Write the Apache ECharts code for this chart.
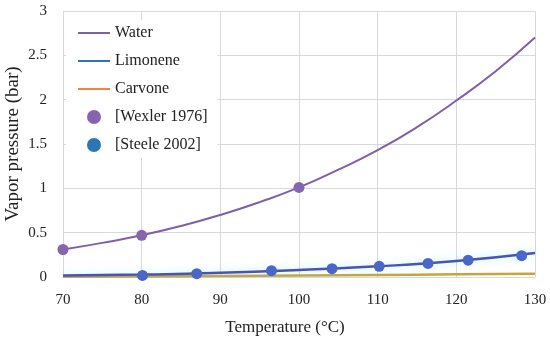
<!DOCTYPE html>
<html><head><meta charset="utf-8">
<script src="https://cdn.jsdelivr.net/npm/echarts@6/dist/echarts.min.js"></script>
<style>html,body{margin:0;padding:0;background:#fff}#c{width:550px;height:343px}</style>
</head><body><div id="c"></div>
<script>
var xTicks = [70, 80, 90, 100, 110, 120, 130];
var yTicks = [0, 0.5, 1, 1.5, 2, 2.5, 3];
var waterT = [70, 75, 80, 85, 90, 95, 100, 105, 110, 115, 120, 125, 130];
var waterP = [0.31, 0.385, 0.47, 0.575, 0.70, 0.845, 1.01, 1.21, 1.43, 1.69, 1.99, 2.32, 2.70];
var limT = [70, 80, 90, 100, 110, 120, 130];
var limP = [0.016, 0.027, 0.047, 0.079, 0.12, 0.18, 0.27];
var carT = [70, 80, 90, 100, 110, 120, 130];
var carP = [0.003, 0.006, 0.010, 0.016, 0.023, 0.030, 0.036];
var wexT = [70, 80, 100];
var wexP = [0.31, 0.47, 1.01];
var steT = [80.1, 87, 96.5, 104.2, 110.2, 116.4, 121.5, 128.3];
var steP = [0.018, 0.037, 0.071, 0.094, 0.12, 0.153, 0.19, 0.24];

function pairs(a, b) { return a.map(function (v, i) { return [v, b[i]]; }); }
var FONT = 'Liberation Serif';
var chart = echarts.init(document.getElementById('c'), null, {renderer: 'canvas'});
chart.setOption({
  animation: false,
  textStyle: {fontFamily: FONT},
  grid: {left: 63, right: 15, top: 11, bottom: 66, containLabel: false, outerBoundsMode: 'none'},
  legend: {
    orient: 'vertical', left: 66, top: 20, itemWidth: 32, itemHeight: 14, itemGap: 12,
    textStyle: {fontFamily: FONT, fontSize: 16, color: '#222'},
    backgroundColor: '#fff', padding: [5, 10, 5, 12],
    data: [
      {name: 'Water', icon: 'path://M0,6L32,6L32,8L0,8Z', itemStyle: {color: '#7f5fa8'}},
      {name: 'Limonene', icon: 'path://M0,6L32,6L32,8L0,8Z', itemStyle: {color: '#2e75b6'}},
      {name: 'Carvone', icon: 'path://M0,6L32,6L32,8L0,8Z', itemStyle: {color: '#f0883c'}},
      {name: '[Wexler 1976]', icon: 'path://M16,2A5,5 0 1,1 15.99,2Z', itemStyle: {color: '#8565b0'}},
      {name: '[Steele 2002]', icon: 'path://M16,2A5,5 0 1,1 15.99,2Z', itemStyle: {color: '#2e75b6'}}
    ]
  },
  xAxis: {
    type: 'value', min: xTicks[0], max: xTicks[xTicks.length - 1], interval: 10,
    name: 'Temperature (°C)', nameLocation: 'middle', nameGap: 42, nameMoveOverlap: false,
    nameTextStyle: {fontFamily: FONT, fontSize: 17, color: '#222', padding: [0, 28, 0, 0]},
    axisLine: {lineStyle: {color: '#d9d9d9'}}, axisTick: {show: false},
    axisLabel: {fontFamily: FONT, fontSize: 15, color: '#222', margin: 16},
    splitLine: {show: true, lineStyle: {color: '#d9d9d9', width: 1}}
  },
  yAxis: {
    type: 'value', min: yTicks[0], max: yTicks[yTicks.length - 1], interval: 0.5,
    name: 'Vapor pressure (bar)', nameLocation: 'middle', nameGap: 40, nameMoveOverlap: false,
    nameTextStyle: {fontFamily: FONT, fontSize: 19, color: '#222'},
    axisLine: {show: true, lineStyle: {color: '#d9d9d9'}}, axisTick: {show: false},
    axisLabel: {fontFamily: FONT, fontSize: 15, color: '#222', margin: 16},
    splitLine: {show: true, lineStyle: {color: '#d9d9d9', width: 1}}
  },
  series: [
    {name: 'Water', type: 'line', smooth: true, showSymbol: false, data: pairs(waterT, waterP),
     lineStyle: {color: '#7f5fa8', width: 2}, itemStyle: {color: '#7f5fa8'}, z: 3},
    {name: 'Limonene', type: 'line', smooth: true, showSymbol: false, data: pairs(limT, limP),
     lineStyle: {color: '#4a52b4', width: 2.5, shadowColor: 'rgba(80,230,255,0.45)', shadowBlur: 8}, itemStyle: {color: '#4a52b4'}, z: 3},
    {name: 'Carvone', type: 'line', smooth: true, showSymbol: false, data: pairs(carT, carP),
     lineStyle: {color: '#c8a53c', width: 2.5}, itemStyle: {color: '#c8a53c'}, z: 2},
    {name: '[Wexler 1976]', type: 'scatter', symbol: 'circle', symbolSize: 11, data: pairs(wexT, wexP),
     itemStyle: {color: '#8565b0', opacity: 1}, z: 5},
    {name: '[Steele 2002]', type: 'scatter', symbol: 'circle', symbolSize: 11, data: pairs(steT, steP),
     itemStyle: {color: '#4a66c8', opacity: 1}, z: 5}
  ]
});
</script></body></html>
